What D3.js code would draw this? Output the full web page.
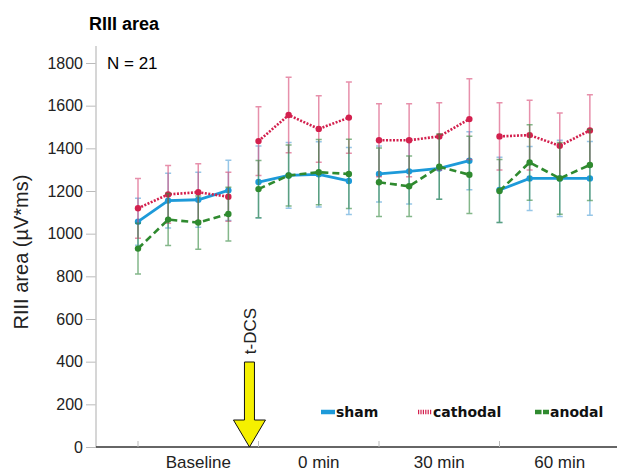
<!DOCTYPE html>
<html>
<head>
<meta charset="utf-8">
<script src="https://cdn.jsdelivr.net/npm/d3@7"></script>
<style>
  body { margin: 0; background: #fff; }
  text { font-family: "Liberation Sans", Arial, sans-serif; }
</style>
</head>
<body>
<div id="vis"></div>
<script>
const width = 617;
const height = 471;

// one entry per measurement, 4 per phase
const phases = ["Baseline", "0 min", "30 min", "60 min"];
const perPhase = 4;
const yTicks = [0, 200, 400, 600, 800, 1000, 1200, 1400, 1600, 1800];

const shamMean = [1056, 1155, 1159, 1203, 1242, 1273, 1278, 1247, 1280, 1292, 1306, 1342, 1205, 1259, 1259, 1259];
const shamErr = [110, 128, 129, 141, 169, 154, 153, 157, 131, 153, 145, 136, 153, 150, 179, 173];
const cathodalMean = [1119, 1184, 1194, 1173, 1434, 1556, 1491, 1544, 1438, 1438, 1456, 1537, 1456, 1462, 1412, 1484];
const cathodalErr = [140, 135, 134, 115, 161, 177, 156, 167, 171, 171, 158, 189, 158, 163, 154, 167];
const anodalMean = [930, 1066, 1052, 1092, 1209, 1273, 1288, 1280, 1241, 1222, 1314, 1276, 1200, 1334, 1259, 1322];
const anodalErr = [119, 122, 125, 126, 134, 143, 153, 162, 160, 142, 153, 181, 148, 177, 168, 166];

const stimAt = 3.7; // t-DCS arrow, in measurement index units

const series = [
    {name: "sham", mean: shamMean, err: shamErr, color: "#1d9ad9", errColor: "rgba(80,160,215,0.6)", dash: null, width: 2.8},
    {name: "cathodal", mean: cathodalMean, err: cathodalErr, color: "#d3204e", errColor: "rgba(215,70,115,0.6)", dash: "2,1.5", width: 2.6},
    {name: "anodal", mean: anodalMean, err: anodalErr, color: "#2f8a2f", errColor: "rgba(50,135,60,0.6)", dash: "7,4", width: 2.6}
];

const svg = d3.select('#vis')
    .append('svg')
    .attr('width', width)
    .attr('height', height);

const x = d3.scaleLinear().domain([0, phases.length * perPhase]).range([138, 620]);
const y = d3.scaleLinear().domain([0, 1800]).range([447, 63]);

function drawAxes(){
    // y axis
    const yAxis = svg.append("g")
        .attr("transform", "translate(96,0)")
        .call(d3.axisLeft(y).tickValues(yTicks).tickFormat(d3.format("d")).tickSize(10).tickPadding(3));
    yAxis.select(".domain").remove();
    yAxis.selectAll("line").attr("stroke", "#bbb");
    yAxis.selectAll("text").style("font-size", "16px").attr("fill", "#222");

    svg.append("line")
        .attr("x1", 96).attr("x2", 96)
        .attr("y1", 46).attr("y2", y(0))
        .attr("stroke", "#c8c8c8").attr("stroke-width", 1.5);

    // x axis
    svg.append("line")
        .attr("x1", 96).attr("x2", 617)
        .attr("y1", y(0)).attr("y2", y(0))
        .attr("stroke", "#333").attr("stroke-width", 1.5);

    svg.selectAll(".xtick")
        .data(phases)
        .enter()
        .append("line")
        .attr("class", "xtick")
        .attr("x1", (d, i) => x(i * perPhase)).attr("x2", (d, i) => x(i * perPhase))
        .attr("y1", y(0)).attr("y2", y(0) - 6)
        .attr("stroke", "#bbb");

    svg.selectAll(".xlabel")
        .data(phases)
        .enter()
        .append("text")
        .attr("class", "xlabel")
        .attr("x", (d, i) => x(i * perPhase + perPhase / 2))
        .attr("y", 468)
        .attr("text-anchor", "middle")
        .style("font-size", "17px")
        .attr("fill", "#222")
        .text(d => d);

    svg.append("text")
        .attr("transform", "translate(28,252) rotate(-90)")
        .attr("text-anchor", "middle")
        .style("font-size", "20px")
        .attr("fill", "#222")
        .text("RIII area (µV*ms)");

    svg.append("text")
        .attr("x", 89).attr("y", 30)
        .style("font-size", "18px").style("font-weight", "bold")
        .text("RIII area");

    svg.append("text")
        .attr("x", 107).attr("y", 69)
        .style("font-size", "17px")
        .text("N = 21");
}

function drawSeries(){
    series.forEach(s => {
        const g = svg.append("g").attr("class", "series-" + s.name);
        const idx = d3.range(s.mean.length);

        // error bars
        g.selectAll(".err")
            .data(idx)
            .enter()
            .append("path")
            .attr("fill", "none")
            .attr("stroke", s.errColor)
            .attr("stroke-width", 1.5)
            .attr("d", i => {
                const cx = x(i), hi = y(s.mean[i] + s.err[i]), lo = y(s.mean[i] - s.err[i]);
                return `M${cx - 3},${hi}H${cx + 3}M${cx},${hi}V${lo}M${cx - 3},${lo}H${cx + 3}`;
            });

        // lines, one piece per phase
        phases.forEach((p, k) => {
            const pts = idx.slice(k * perPhase, (k + 1) * perPhase);
            g.append("path")
                .datum(pts)
                .attr("fill", "none")
                .attr("stroke", s.color)
                .attr("stroke-width", s.width)
                .attr("stroke-dasharray", s.dash)
                .attr("d", d3.line().x(i => x(i)).y(i => y(s.mean[i])));
        });

        g.selectAll("circle")
            .data(idx)
            .enter()
            .append("circle")
            .attr("cx", i => x(i))
            .attr("cy", i => y(s.mean[i]))
            .attr("r", 3.2)
            .attr("fill", s.color);
    });
}

function drawArrow(){
    const ax = x(stimAt);
    const base = y(0);
    svg.append("path")
        .attr("d", `M${ax - 5},362 H${ax + 5} V420 H${ax + 16} L${ax},${base} L${ax - 16},420 H${ax - 5} Z`)
        .attr("fill", "#f5f000")
        .attr("stroke", "#111")
        .attr("stroke-width", 1);

    svg.append("text")
        .attr("transform", `translate(${ax + 1},331) rotate(-90)`)
        .attr("text-anchor", "middle")
        .attr("dy", "0.35em")
        .style("font-size", "17px")
        .attr("fill", "#222")
        .text("t-DCS");
}

function drawLegend(){
    const legendX = [321, 418, 535];
    const item = svg.selectAll(".legend-item")
        .data(series)
        .enter()
        .append("g")
        .attr("class", "legend-item")
        .attr("transform", (d, i) => `translate(${legendX[i]}, 412)`);

    item.append("line")
        .attr("x1", 0).attr("x2", 14)
        .attr("stroke", d => d.color)
        .attr("stroke-width", 4.5)
        .attr("stroke-dasharray", d => d.name === "cathodal" ? "1.2,1.2" : d.name === "anodal" ? "6.5,1.5" : null);

    item.append("text")
        .attr("x", 15)
        .attr("y", 5)
        .style("font-family", "'DejaVu Sans', sans-serif")
        .style("font-size", "14px")
        .style("font-weight", "bold")
        .attr("fill", "#111")
        .text(d => d.name);
}

drawAxes();
drawSeries();
drawArrow();
drawLegend();
</script>
</body>
</html>
